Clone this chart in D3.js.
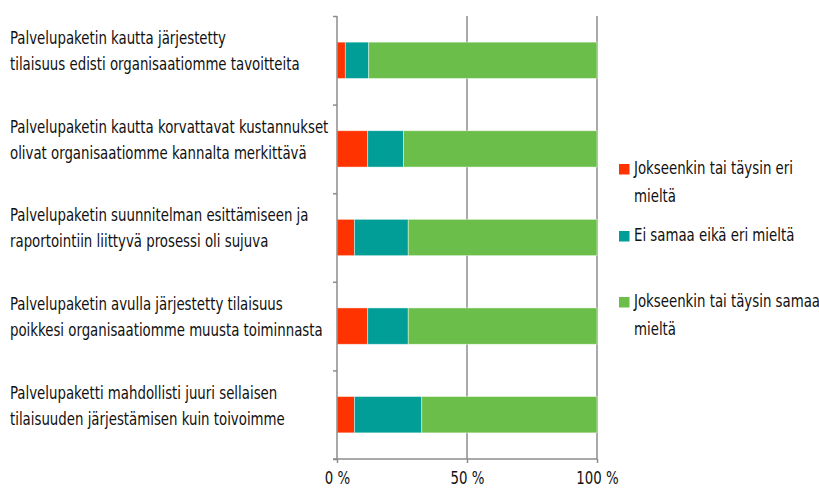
<!DOCTYPE html>
<meta charset="utf-8">
<style>
    body { margin: 0; background: #fff; }
    text {
        font-family: "Liberation Sans Narrow", "DejaVu Sans Condensed", sans-serif;
        fill: #111;
    }
    .axis path, .axis line { stroke: #8c8c8c; stroke-width: 1.5; }
    .grid { stroke: #8c8c8c; stroke-width: 1.5; }
</style>
<svg width="819" height="490"></svg>
<script src="https://cdn.jsdelivr.net/npm/d3@7"></script>
<script>

    // kategoriat (kaksi riviä kullekin)
    var categories = [
        ["Palvelupaketin kautta järjestetty", "tilaisuus edisti organisaatiomme tavoitteita"],
        ["Palvelupaketin kautta korvattavat kustannukset", "olivat organisaatiomme kannalta merkittävä"],
        ["Palvelupaketin suunnitelman esittämiseen ja", "raportointiin liittyvä prosessi oli sujuva"],
        ["Palvelupaketin avulla järjestetty tilaisuus", "poikkesi organisaatiomme muusta toiminnasta"],
        ["Palvelupaketti mahdollisti juuri sellaisen", "tilaisuuden järjestämisen kuin toivoimme"]
    ];
    var seriesNames = [
        ["Jokseenkin tai täysin eri", "mieltä"],
        ["Ei samaa eikä eri mieltä"],
        ["Jokseenkin tai täysin samaa", "mieltä"]
    ];
    var disagree = [3.2, 11.8, 6.7, 11.8, 6.7];
    var neutral  = [9.0, 13.8, 20.7, 15.6, 25.9];
    var agree    = [87.8, 74.4, 72.6, 72.6, 67.4];
    var xTicks = [0, 50, 100];
    var colors = ["#ff3300", "#009e96", "#6cbe4a"];

    var svg = d3.select("svg"),
        left = 337, right = 597,
        plotTop = 16, plotBottom = 459;

    var x = d3.scaleLinear().domain([0, 100]).range([left, right]);

    var y = d3.scaleBand()
        .domain(d3.range(categories.length))
        .range([plotTop, plotBottom])
        .paddingInner(0.59)
        .paddingOuter(0.295);

    var yIdx = d3.scaleLinear().domain([0, categories.length]).range([plotTop, plotBottom]);

    // ruudukko
    svg.selectAll(".grid")
        .data(xTicks.slice(1))
        .enter().append("line")
        .attr("class", "grid")
        .attr("x1", function(d) { return x(d); })
        .attr("x2", function(d) { return x(d); })
        .attr("y1", plotTop)
        .attr("y2", plotBottom);

    var stackData = categories.map(function(c, i) {
        return { i: i, v: [disagree[i], neutral[i], agree[i]] };
    });

    stackData.forEach(function(d) {
        var acc = 0;
        d.v.forEach(function(v, k) {
            svg.append("rect")
                .attr("x", x(acc))
                .attr("y", y(d.i))
                .attr("width", x(acc + v) - x(acc))
                .attr("height", y.bandwidth())
                .attr("fill", colors[k])
                .attr("stroke", "rgba(255,255,255,0.55)")
                .attr("stroke-width", 0.8);
            acc += v;
        });
    });

    // akselit
    var gY = svg.append("g")
        .attr("class", "axis")
        .attr("transform", "translate(" + left + ",0)")
        .call(d3.axisLeft(yIdx).ticks(categories.length).tickSize(4).tickFormat(""));
    gY.select(".domain").attr("d", "M0," + plotTop + "V" + plotBottom);

    // kategorioiden nimet
    var catG = svg.append("g");
    catG.selectAll(".cat")
        .data(categories)
        .enter().append("text")
        .attr("class", "cat")
        .style("font-size", "18px")
        .each(function(lines, i) {
            var cy = y(i) + y.bandwidth() / 2;
            d3.select(this).selectAll("tspan")
                .data(lines)
                .enter().append("tspan")
                .attr("x", 0)
                .attr("y", function(l, j) { return cy - 16 + j * 26; })
                .text(function(l) { return l; });
        });
    // kapeampi fontti: puristetaan tekstit vaakasuunnassa alkuperäisen leveyteen
    var refW = 290;
    var measured = catG.select(".cat").selectAll("tspan").nodes()[1].getComputedTextLength();
    var sx = refW / measured;
    catG.attr("transform", "translate(10,0) scale(" + sx + ",1)");

    var gX = svg.append("g")
        .attr("class", "axis")
        .attr("transform", "translate(0," + plotBottom + ")")
        .call(d3.axisBottom(x).tickValues(xTicks).tickSize(4).tickPadding(8)
            .tickFormat(function(d) { return d + " %"; }));
    gX.select(".domain").attr("d", "M" + (left - 4) + ",0H" + right);
    gX.selectAll("text")
        .style("font-size", "18px")
        .attr("fill", "#111")
        .attr("transform", "scale(" + sx + ",1)");

    // selite
    var legendY = [164, 231, 297];
    var legend = svg.selectAll(".leg")
        .data(seriesNames)
        .enter().append("g")
        .attr("transform", function(d, i) { return "translate(619," + legendY[i] + ")"; });

    legend.append("rect")
        .attr("width", 10.5)
        .attr("height", 10.5)
        .attr("fill", function(d, i) { return colors[i]; });

    legend.append("text")
        .style("font-size", "18px")
        .attr("transform", "translate(15,0) scale(" + sx + ",1)")
        .selectAll("tspan")
        .data(function(d) { return d; })
        .enter().append("tspan")
        .attr("x", 0)
        .attr("y", function(l, j) { return 10 + j * 28; })
        .text(function(l) { return l; });

</script>
